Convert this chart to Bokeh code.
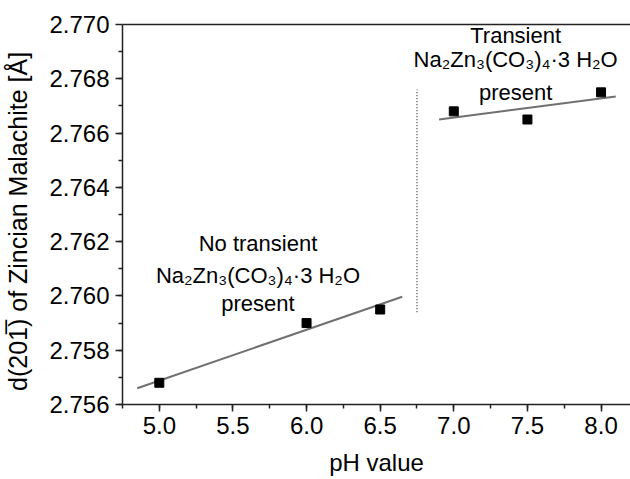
import numpy as np
from bokeh.plotting import figure
from bokeh.models import FixedTicker, NumeralTickFormatter, LinearAxis, Range1d
from bokeh.core.properties import value
from bokeh.embed import file_html
from bokeh.resources import INLINE

# data
ph_values = [5.0, 6.0, 6.5, 7.0, 7.5, 8.0]
d_spacing = [2.7568, 2.7590, 2.7595, 2.7668, 2.7665, 2.7675]

fit_low_x = [4.85, 6.65]
fit_low_y = [2.7566, 2.75997]
fit_high_x = [6.90, 8.10]
fit_high_y = [2.7665, 2.76735]

divider_x = [6.75, 6.75]
divider_y = [2.7594, 2.7676]

x_ticks = [5.0, 5.5, 6.0, 6.5, 7.0, 7.5, 8.0]
y_ticks = [2.756, 2.758, 2.760, 2.762, 2.764, 2.766, 2.768, 2.770]

note_low = ["No transient", "Na₂Zn₃(CO₃)₄·3 H₂O", "present"]
note_low_x = 5.67
note_low_y = [2.76192, 2.76074, 2.75971]
note_high = ["Transient", "Na₂Zn₃(CO₃)₄·3 H₂O", "present"]
note_high_x = 7.42
note_high_y = [2.76960, 2.76871, 2.76749]

FONT = "Liberation Sans"

p = figure(width=630, height=479, output_backend="svg", toolbar_location=None,
           x_range=Range1d(4.75, 8.2), y_range=Range1d(2.756, 2.770),
           min_border_left=122, min_border_right=0, min_border_top=24, min_border_bottom=75)
p.outline_line_color = None
p.xgrid.visible = False
p.ygrid.visible = False
p.background_fill_color = "white"
p.border_fill_color = "white"

for ax, ticks, fmt in ((p.xaxis[0], x_ticks, "0.0"), (p.yaxis[0], y_ticks, "0.000")):
    step = ticks[1] - ticks[0]
    ax.ticker = FixedTicker(ticks=ticks,
                            minor_ticks=list(np.arange(ticks[0] - step / 2, ticks[-1] + step, step / 2)))
    ax.formatter = NumeralTickFormatter(format=fmt)
    ax.axis_line_width = 1.5
    ax.axis_line_color = "#222222"
    ax.major_tick_line_color = "#222222"
    ax.minor_tick_line_color = "#222222"
    ax.major_tick_line_width = 1.5
    ax.minor_tick_line_width = 1.5
    ax.major_tick_in = 0
    ax.major_tick_out = 7
    ax.minor_tick_in = 0
    ax.minor_tick_out = 4
    ax.major_label_text_font = FONT
    ax.major_label_text_font_size = "24px"
    ax.major_label_text_color = "black"
    ax.axis_label_text_font = FONT
    ax.axis_label_text_font_size = "24px"
    ax.axis_label_text_font_style = "normal"
    ax.axis_label_text_color = "black"

p.xaxis.major_label_standoff = 5
p.yaxis.major_label_standoff = 6
p.xaxis.axis_label = "pH value"
p.xaxis.axis_label_standoff = 12
p.yaxis.axis_label = "d(201\u0305) of Zincian Malachite [Å]" + "\u00a0" * 2
p.yaxis.axis_label_text_font_size = "25px"
p.yaxis.axis_label_standoff = 14

top_axis = LinearAxis(ticker=FixedTicker(ticks=[]), major_label_text_font_size="0px",
                      major_tick_line_color=None, minor_tick_line_color=None,
                      axis_line_width=1.5, axis_line_color="#222222")
p.add_layout(top_axis, "above")

p.line(fit_low_x, fit_low_y, line_color="#707070", line_width=2)
p.line(fit_high_x, fit_high_y, line_color="#707070", line_width=2)
p.line(divider_x, divider_y, line_color="black", line_width=1, line_dash="1 2")
p.scatter(ph_values, d_spacing, marker="square", size=9, fill_color="black", line_color="black")

p.text(x=[note_low_x] * 3, y=note_low_y, text=note_low, text_align="center",
       text_baseline="middle", text_font=value(FONT), text_font_size="22px", text_color="black")
p.text(x=[note_high_x] * 3, y=note_high_y, text=note_high, text_align="center",
       text_baseline="middle", text_font=value(FONT), text_font_size="22px", text_color="black")

open("out.html", "w").write(file_html(p, INLINE))
